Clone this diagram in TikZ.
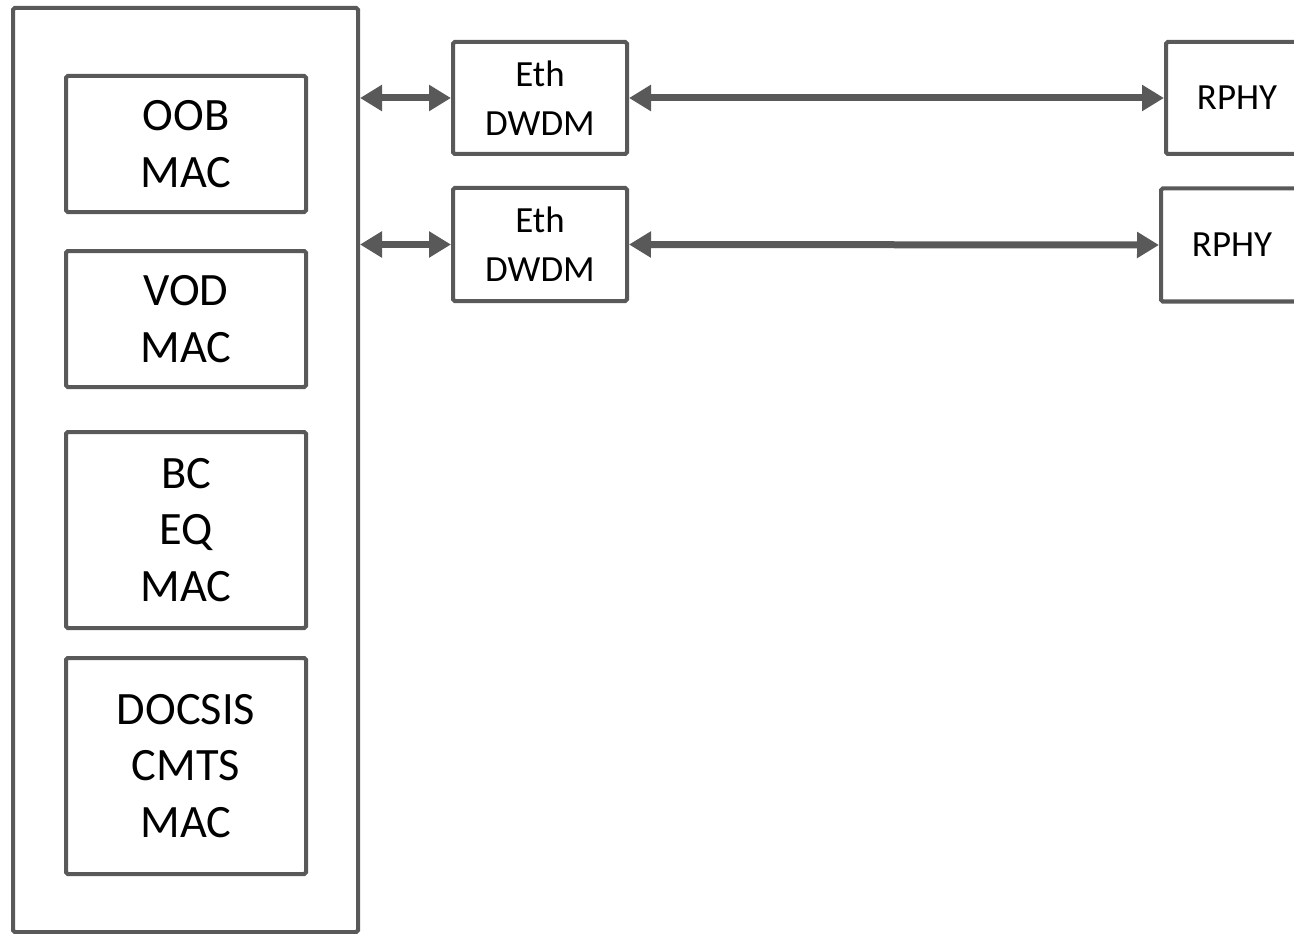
\documentclass[tikz,border=0pt]{standalone}
\usepackage{fontspec}
\setmainfont{Carlito}
\usepackage{xcolor}
\usetikzlibrary{arrows.meta,positioning}
\definecolor{boxgray}{HTML}{595959}

\begin{document}
\begin{tikzpicture}[
  box/.style={draw=boxgray,line width=0.08cm,rounded corners=1pt,fill=white,align=center,inner sep=0pt},
  macbox/.style={box,minimum width=4.8cm,font=\fontsize{26.4}{32.3}\selectfont},
  ethbox/.style={box,minimum width=3.48cm,minimum height=2.24cm,font=\fontsize{21}{28}\selectfont},
  phybox/.style={box,minimum width=2.84cm,minimum height=2.24cm,font=\fontsize{21}{25}\selectfont},
  link/.style={draw=boxgray,line width=0.14cm,{Triangle[length=0.44cm,width=0.5cm]}-{Triangle[length=0.44cm,width=0.5cm]}}
]
\useasboundingbox (0,0) rectangle (25.88,-18.68);
\clip (0,0) rectangle (25.88,-18.68);
\node [box,minimum width=6.9cm,minimum height=18.48cm] (outer) at (3.71,-9.40) {};
\node [macbox,minimum height=2.72cm] (oob) at (3.72,-2.88) {OOB\\MAC};
\node [macbox,minimum height=2.72cm] (vod) at (3.72,-6.38) {VOD\\MAC};
\node [macbox,minimum height=3.92cm] (bceq) at (3.72,-10.60) {BC\\EQ\\MAC};
\node [macbox,minimum height=4.32cm] (docsis) at (3.72,-15.32) {DOCSIS\\CMTS\\MAC};
\node [ethbox] (eth1) at (10.80,-1.96) {Eth\\DWDM};
\node [ethbox,minimum height=2.26cm] (eth2) at (10.80,-4.89) {Eth\\DWDM};
\node [phybox] (rphy1) at (24.74,-1.96) {RPHY};
\node [phybox,minimum height=2.26cm] (rphy2) at (24.64,-4.90) {RPHY};
\draw [link] (outer.east |- eth1.west) -- (eth1.west);
\draw [link] (outer.east |- eth2.west) -- (eth2.west);
\draw [link] (eth1.east) -- (rphy1.west);
\draw [link] (eth2.east) -- (rphy2.west);
\end{tikzpicture}
\end{document}
